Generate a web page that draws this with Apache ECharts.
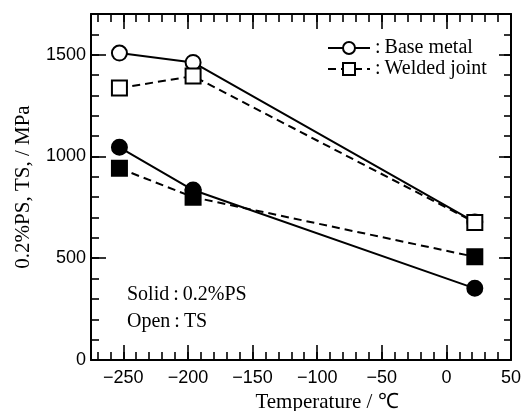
<!DOCTYPE html>
<html>
<head>
<meta charset="utf-8">
<script src="https://cdn.jsdelivr.net/npm/echarts@6/dist/echarts.min.js"></script>
<style>
  html, body { margin: 0; padding: 0; background: #fff; }
  #chart { width: 522px; height: 411px; }
</style>
</head>
<body>
<div id="chart"></div>
<script>
// temperatures (℃)
var temps = [-253, -196, 22];
// tensile strength (open marks)
var baseTS = [1508, 1462, 678];
var weldTS = [1336, 1395, 676];
// 0.2% proof stress (solid marks)
var basePS = [1045, 835, 352];
var weldPS = [942, 800, 507];

var xTicks = [-250, -200, -150, -100, -50, 0, 50];
var yTicks = [0, 500, 1000, 1500];
var xMinor = [];
for (var v = -270; v <= 50; v += 10) { xMinor.push(v); }
var yMinor = [];
for (var w = 0; w <= 1700; w += 100) { yMinor.push(w); }

function pairs(xs, ys) {
    return xs.map(function (x, i) { return [x, ys[i]]; });
}

var chart = echarts.init(document.getElementById('chart'));

var serif = 'Liberation Serif';
var sans = 'Liberation Sans';
var gridRect = { left: 91, right: 11, top: 14, bottom: 51, outerBoundsMode: 'none', containLabel: false };

function xAx(grid, pos, ticks, len, labels) {
    return {
        type: 'value', gridIndex: grid, position: pos,
        min: -275, max: 50,
        axisLine: { show: grid === 0, onZero: false, lineStyle: { color: '#000', width: 2 } },
        axisTick: { show: true, inside: true, length: len, customValues: ticks,
                    lineStyle: { color: '#000', width: 1.6 } },
        axisLabel: labels ? { show: true, customValues: xTicks, margin: 9,
                              color: '#000', fontFamily: sans, fontSize: 18,
                              formatter: function (v) { return v < 0 ? '\u2212' + Math.abs(v) : String(v); } }
                          : { show: false },
        splitLine: { show: false }
    };
}
function yAx(grid, pos, ticks, len, labels) {
    return {
        type: 'value', gridIndex: grid, position: pos,
        min: 0, max: 1700,
        axisLine: { show: grid === 0, onZero: false, lineStyle: { color: '#000', width: 2 } },
        axisTick: { show: true, inside: true, length: len, customValues: ticks,
                    lineStyle: { color: '#000', width: 1.6 } },
        axisLabel: labels ? { show: true, customValues: yTicks, margin: 5,
                              color: '#000', fontFamily: sans, fontSize: 18,
                              formatter: function (v) { return String(v); } }
                          : { show: false },
        splitLine: { show: false }
    };
}

var xBottom = xAx(0, 'bottom', xTicks, 15, true);
xBottom.name = 'Temperature / \u2103';
xBottom.nameLocation = 'middle';
xBottom.nameGap = 24;
xBottom.nameTextStyle = { color: '#000', fontFamily: serif, fontSize: 21, padding: [0, 0, 0, 52] };

var yLeft = yAx(0, 'left', yTicks, 15, true);
yLeft.name = '0.2%PS, TS, / MPa';
yLeft.nameLocation = 'middle';
yLeft.nameGap = 57;
yLeft.nameTextStyle = { color: '#000', fontFamily: serif, fontSize: 21 };

function lineSeries(name, data, symbol, dashed) {
    return {
        name: name, type: 'line', xAxisIndex: 0, yAxisIndex: 0,
        data: data, symbol: symbol, symbolSize: 15,
        itemStyle: { color: '#000', borderColor: '#000', borderWidth: 2 },
        lineStyle: { color: '#000', width: 2, type: dashed ? [8, 5] : 'solid' },
        emphasis: { disabled: true },
        animation: false, z: 3
    };
}

var option = {
    animation: false,
    grid: [gridRect, gridRect],
    xAxis: [
        xBottom,
        xAx(0, 'top', xTicks, 15, false),
        xAx(1, 'bottom', xMinor, 8, false),
        xAx(1, 'top', xMinor, 8, false)
    ],
    yAxis: [
        yLeft,
        yAx(0, 'right', yTicks, 12, false),
        yAx(1, 'left', yMinor, 8, false),
        yAx(1, 'right', yMinor, 7, false)
    ],
    legend: {
        data: ['Base metal', 'Welded joint'],
        orient: 'vertical', left: 327, top: 38, padding: 0,
        itemWidth: 42, itemHeight: 15, itemGap: 1,
        selectedMode: false,
        textStyle: { color: '#000', fontFamily: serif, fontSize: 20, lineHeight: 18 },
        formatter: function (name) { return ':\u2009' + name; }
    },
    graphic: [
        { type: 'text', left: 127, top: 285, style: { text: 'Solid\u2009:\u20090.2%PS', fill: '#000', font: '20px "Liberation Serif"' } },
        { type: 'text', left: 127, top: 312, style: { text: 'Open\u2009:\u2009TS', fill: '#000', font: '20px "Liberation Serif"' } }
    ],
    series: [
        lineSeries('Base metal', pairs(temps, baseTS), 'emptyCircle', false),
        lineSeries('Welded joint', pairs(temps, weldTS), 'emptyRect', true),
        lineSeries('Base metal PS', pairs(temps, basePS), 'circle', false),
        lineSeries('Welded joint PS', pairs(temps, weldPS), 'rect', true)
    ]
};
chart.setOption(option);
</script>
</body>
</html>
